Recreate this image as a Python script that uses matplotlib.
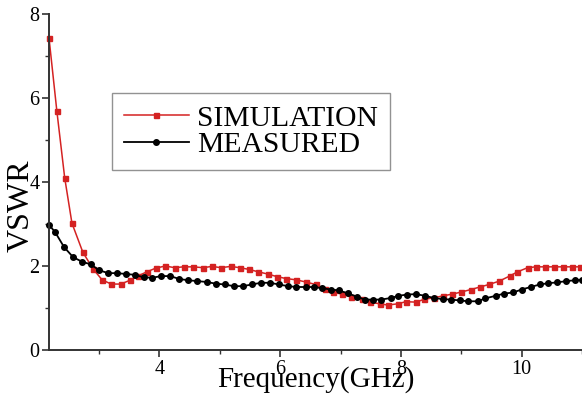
import matplotlib
matplotlib.use('Agg')
import matplotlib.pyplot as plt
from matplotlib.ticker import MultipleLocator

plt.rcParams['font.family'] = ['Liberation Serif', 'DejaVu Serif']

# values
sim_f = [2.17, 2.30, 2.43, 2.55, 2.73, 2.90, 3.05, 3.20, 3.36, 3.51, 3.64, 3.79, 3.94,
         4.10, 4.25, 4.40, 4.56, 4.72, 4.87, 5.02, 5.18, 5.33, 5.48, 5.64, 5.79, 5.94,
         6.10, 6.27, 6.42, 6.59, 6.74, 6.88, 7.03, 7.18, 7.35, 7.48, 7.65, 7.78, 7.95,
         8.08, 8.25, 8.39, 8.54, 8.70, 8.85, 9.00, 9.16, 9.31, 9.46, 9.63, 9.80, 9.93,
         10.10, 10.24, 10.39, 10.54, 10.69, 10.84, 10.96]
sim_vswr = [7.43, 5.69, 4.10, 3.02, 2.33, 1.93, 1.67, 1.57, 1.57, 1.66, 1.76, 1.86, 1.95,
            2.00, 1.96, 1.98, 1.98, 1.96, 1.99, 1.96, 1.99, 1.96, 1.92, 1.86, 1.81, 1.75,
            1.70, 1.67, 1.62, 1.56, 1.45, 1.37, 1.33, 1.26, 1.21, 1.14, 1.10, 1.07, 1.10,
            1.15, 1.14, 1.21, 1.24, 1.29, 1.33, 1.38, 1.44, 1.50, 1.56, 1.64, 1.76, 1.86,
            1.96, 1.98, 1.98, 1.98, 1.98, 1.98, 1.98]

meas_f = [2.17, 2.27, 2.42, 2.57, 2.72, 2.86, 3.00, 3.15, 3.30, 3.44, 3.59, 3.74, 3.88,
          4.03, 4.18, 4.33, 4.48, 4.63, 4.78, 4.93, 5.08, 5.23, 5.38, 5.53, 5.68, 5.83,
          5.98, 6.13, 6.27, 6.42, 6.56, 6.70, 6.84, 6.97, 7.12, 7.27, 7.40, 7.54, 7.67,
          7.84, 7.96, 8.10, 8.25, 8.40, 8.54, 8.70, 8.83, 8.98, 9.11, 9.27, 9.40, 9.57,
          9.70, 9.86, 10.00, 10.15, 10.30, 10.44, 10.59, 10.74, 10.88, 11.0]
meas_vswr = [2.98, 2.81, 2.45, 2.21, 2.10, 2.04, 1.90, 1.83, 1.83, 1.81, 1.79, 1.73, 1.72,
             1.76, 1.76, 1.69, 1.66, 1.64, 1.62, 1.58, 1.56, 1.52, 1.52, 1.56, 1.60, 1.60,
             1.56, 1.52, 1.50, 1.50, 1.50, 1.47, 1.44, 1.42, 1.35, 1.27, 1.20, 1.20, 1.20,
             1.24, 1.29, 1.32, 1.33, 1.29, 1.24, 1.21, 1.20, 1.18, 1.16, 1.16, 1.23, 1.29,
             1.34, 1.37, 1.44, 1.50, 1.56, 1.59, 1.61, 1.64, 1.66, 1.67]

fig = plt.figure(figsize=(5.82, 3.98), dpi=100)
ax = fig.add_axes([49 / 582, 1 - 350 / 398, 1 - 49 / 582, (350 - 14) / 398])

ax.plot(sim_f, sim_vswr, color='#d42222', lw=1.1, marker='s', ms=3.6,
        label='SIMULATION', clip_on=False)
ax.plot(meas_f, meas_vswr, color='black', lw=1.3, marker='o', ms=4,
        label='MEASURED', clip_on=False)

ax.set_xlim(2.17, 11)
ax.set_ylim(0, 8)
ax.xaxis.set_major_locator(MultipleLocator(2))
ax.xaxis.set_minor_locator(MultipleLocator(1))
ax.yaxis.set_major_locator(MultipleLocator(2))
ax.yaxis.set_minor_locator(MultipleLocator(1))

for s in ['top', 'right']:
    ax.spines[s].set_visible(False)
for s in ['left', 'bottom']:
    ax.spines[s].set_linewidth(1.4)
    ax.spines[s].set_color('#333333')

ax.tick_params(which='major', direction='out', length=5, width=1.2, labelsize=14.5,
               color='#333333', pad=2)
ax.tick_params(which='minor', direction='out', length=3, width=1.0, color='#333333')

ax.set_xlabel('Frequency(GHz)', fontsize=21, labelpad=-9)
ax.set_ylabel('VSWR', fontsize=23)
ax.yaxis.set_label_coords(-0.026, 0.43)

leg = ax.legend(loc='upper left', bbox_to_anchor=(112 / 582, 1 - 93 / 398),
                bbox_transform=fig.transFigure, fontsize=21.3, handlelength=2.2,
                handletextpad=0.27, borderpad=0.4, labelspacing=0.0, fancybox=False,
                borderaxespad=0)
leg.get_frame().set_edgecolor('#777777')
leg.get_frame().set_linewidth(1.0)

fig.savefig('out.png', dpi=100)
